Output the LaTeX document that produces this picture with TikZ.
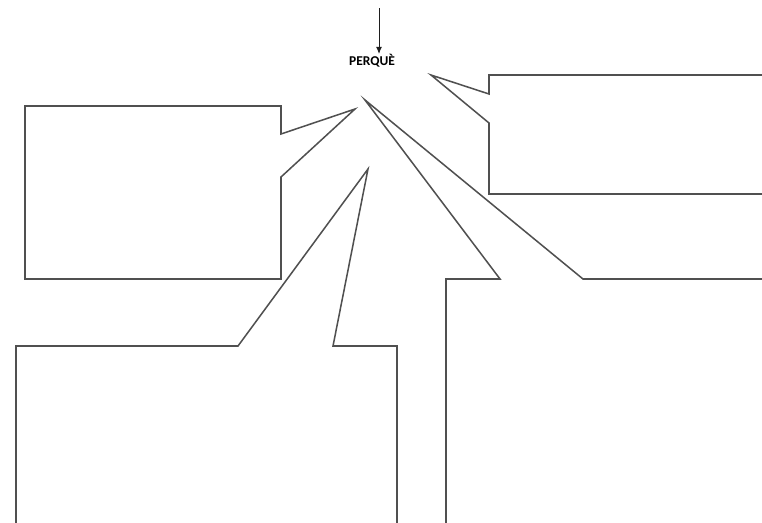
\documentclass[tikz,border=0pt]{standalone}
\usepackage{fontspec}
\setmainfont{Carlito}
\usetikzlibrary{arrows.meta}
\definecolor{cRand}{RGB}{80,80,80}
\definecolor{cPfeil}{RGB}{30,30,30}

\begin{document}
\begin{tikzpicture}[x=0.03cm,y=-0.03cm,font=\fontsize{11.5}{13}\selectfont\bfseries,
  bubble/.style={draw=cRand,line width=1.3pt,line join=miter}]
\useasboundingbox (0,0) rectangle (762,522);
\clip (0,0) rectangle (762,522);
\coordinate (start) at (379,8);
\node[anchor=north,inner sep=0pt] (perque) at (372,54) {PERQUÈ};
\draw[cPfeil,line width=0.8pt,-{Latex[length=6pt,width=5pt]}] (start) -- (start |- perque.north);
\draw[bubble] (25,106) -- (281,106) -- (281,134) -- (355,109) -- (281,177) -- (281,279) -- (25,279) -- cycle;
\draw[bubble] (489,75) -- (489,94) -- (431,75) -- (489,123) -- (489,194) -- (780,194) -- (780,75) -- cycle;
\draw[bubble] (16,346) -- (238,346) -- (368,169) -- (333,346) -- (397,346) -- (397,540) -- (16,540) -- cycle;
\draw[bubble] (446,279) -- (500,279) -- (365,100) -- (583,279) -- (780,279) -- (780,540) -- (446,540) -- cycle;
\end{tikzpicture}
\end{document}
